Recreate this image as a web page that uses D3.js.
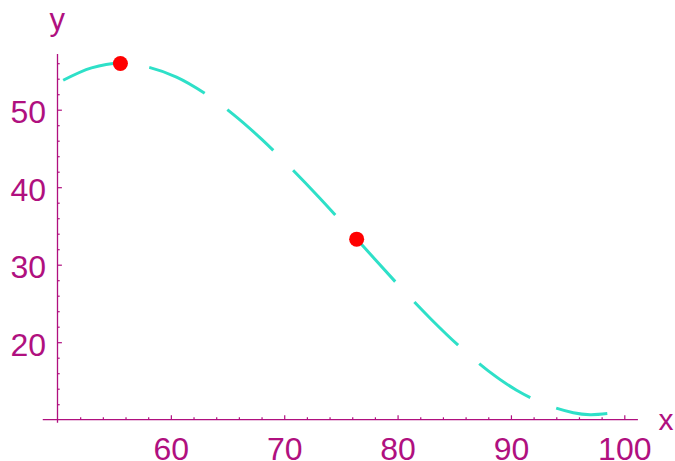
<!DOCTYPE html>
<html>
<head>
<meta charset="utf-8">
<script src="https://cdn.jsdelivr.net/npm/d3@7"></script>
<style>
  html, body { margin: 0; padding: 0; background: #fff; }
  svg { display: block; }
  text { font-family: "Liberation Sans", Arial, sans-serif; fill: #b0107f; }
</style>
</head>
<body>
<svg id="chart" width="675" height="461"></svg>
<script>
// Curve samples (x, y)
const curveX = [50.5, 53, 55.5, 58, 60.5, 63, 65.5, 68, 70.5, 73, 75.5, 78, 80.5, 83, 85.5, 88, 90.5, 93, 95.5, 97, 98.5];
const curveY = [53.8, 55.4, 56.0, 55.5, 54.2, 52.1, 49.4, 46.2, 42.6, 38.8, 34.8, 30.7, 26.7, 22.9, 19.4, 16.3, 13.8, 12.0, 10.9, 10.65, 10.8];

// Highlighted points: maximum and inflection
const markX = [55.55, 76.39];
const markY = [55.96, 33.3];

// Tick values
const xMajorTicks = [60, 70, 80, 90, 100];
const xMinorTicks = [52, 54, 56, 58, 62, 64, 66, 68, 72, 74, 76, 78, 82, 84, 86, 88, 92, 94, 96, 98];
const yMajorTicks = [20, 30, 40, 50];
const yMinorTicks = [12, 14, 16, 18, 22, 24, 26, 28, 32, 34, 36, 38, 42, 44, 46, 48, 52, 54, 56];

const axisColor = "#b0107f";
const svg = d3.select("#chart");

const x = d3.scaleLinear().domain([50, 100]).range([57.5, 624.3]);
const y = d3.scaleLinear().domain([10, 50]).range([419.7, 109.7]);

// Axis lines
svg.append("line")
  .attr("x1", x(48.7)).attr("x2", x(101.2))
  .attr("y1", y(10)).attr("y2", y(10))
  .attr("stroke", axisColor).attr("stroke-width", 1.3);
svg.append("line")
  .attr("x1", x(50)).attr("x2", x(50))
  .attr("y1", y(9.6)).attr("y2", y(57.2))
  .attr("stroke", axisColor).attr("stroke-width", 1.3);

// X ticks (drawn upward from the axis)
const gx = svg.append("g").attr("transform", `translate(0,${y(10)})`);
gx.call(d3.axisBottom(x).tickValues(xMinorTicks).tickSize(-2.4).tickFormat(""));
gx.append("g").call(d3.axisBottom(x).tickValues(xMajorTicks).tickSize(-4.4).tickPadding(17.3).tickFormat(d3.format("d")));

// Y ticks (drawn rightward from the axis)
const gy = svg.append("g").attr("transform", `translate(${x(50)},0)`);
gy.call(d3.axisLeft(y).tickValues(yMinorTicks).tickSize(-2.2).tickFormat(""));
gy.append("g").call(d3.axisLeft(y).tickValues(yMajorTicks).tickSize(-4.4).tickPadding(11.5).tickFormat(d3.format("d")));

svg.selectAll(".domain").remove();
svg.selectAll(".tick line").attr("stroke", axisColor).attr("stroke-width", 1.2);
svg.selectAll(".tick text")
  .attr("fill", axisColor)
  .style("font-size", "32px")
  .style("font-family", "'Liberation Sans', Arial, sans-serif");
gy.selectAll(".tick text").attr("dy", "0.41em");

// Axis titles
svg.append("text").attr("x", 658.5).attr("y", 430).style("font-size", "30px").text("x");
svg.append("text").attr("x", 49.5).attr("y", 29.5).style("font-size", "31px").text("y");

// Dashed curve
const pts = curveX.map((v, i) => [v, curveY[i]]);
const line = d3.line().x(d => x(d[0])).y(d => y(d[1])).curve(d3.curveCatmullRom);
svg.append("path")
  .attr("d", line(pts))
  .attr("fill", "none")
  .attr("stroke", "#2ee0c8")
  .attr("stroke-width", 3)
  .attr("stroke-dasharray", "61.5 28");

// Highlighted points
svg.selectAll("circle.mark")
  .data(markX.map((v, i) => [v, markY[i]]))
  .join("circle")
  .attr("class", "mark")
  .attr("cx", d => x(d[0]))
  .attr("cy", d => y(d[1]))
  .attr("r", 7.5)
  .attr("fill", "#ff0000");
</script>
</body>
</html>
